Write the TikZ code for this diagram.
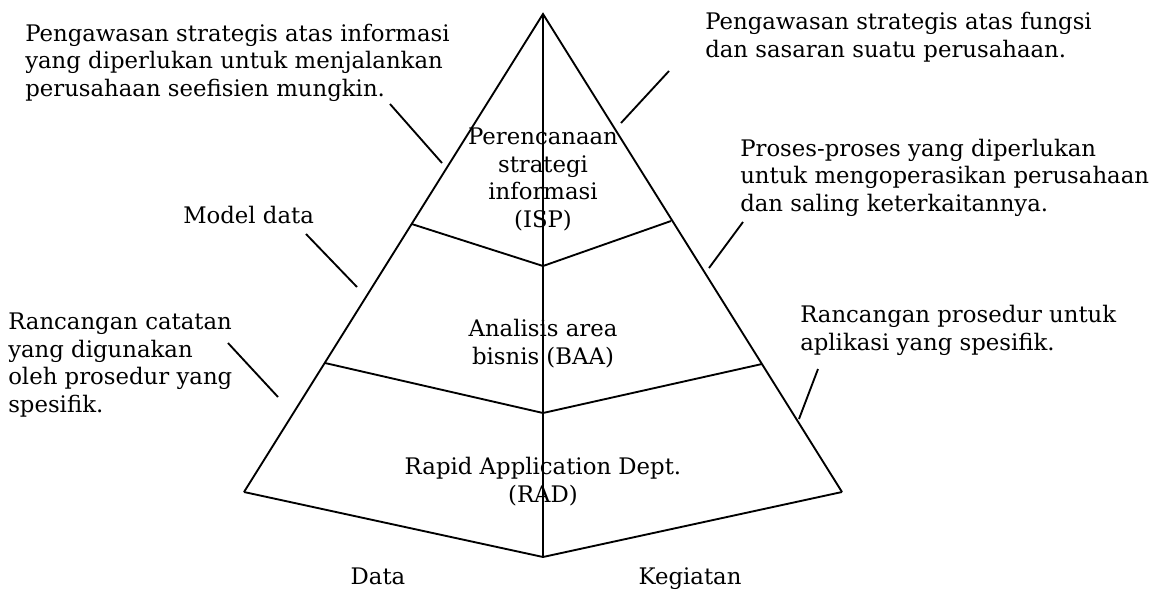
\documentclass[tikz,border=0pt]{standalone}
\usepackage{fontspec}
\setmainfont{DejaVu Serif}
\begin{document}
\begin{tikzpicture}[x=0.75pt,y=-0.75pt,
  txt/.style={font=\fontsize{17.1}{20.6}\selectfont, inner sep=0pt, align=left, anchor=base west},
  mid/.style={font=\fontsize{17.1}{20.6}\selectfont, inner sep=0pt, align=center, anchor=base},
  edge/.style={line width=1.4pt},
  pointer/.style={line width=1.4pt}]
\useasboundingbox (0,0) rectangle (1158,590);

% pyramid corners and tier breaks
\coordinate (apex) at (543,14);
\coordinate (bl)   at (244,492);
\coordinate (br)   at (842,492);
\coordinate (bot)  at (543,557);
\coordinate (t1l)  at (411.7,224);
\coordinate (t1c)  at (543,266);
\coordinate (t1r)  at (671,221);
\coordinate (t2l)  at (325,363);
\coordinate (t2c)  at (543,413);
\coordinate (t2r)  at (762,364);

\draw[edge] (bl) -- (apex) -- (br);
\draw[edge] (bl) -- (bot) -- (br);
\draw[edge] (apex) -- (bot);
\draw[edge] (t1l) -- (t1c) -- (t1r);
\draw[edge] (t2l) -- (t2c) -- (t2r);

% tier labels (anchored at the baseline of their last line)
\node[mid] (isp) at (543,227) {Perencanaan\\strategi\\informasi\\(ISP)};
\node[mid] (baa) at (543,364) {Analisis area\\bisnis (BAA)};
\node[mid] (rad) at (543,502) {Rapid Application Dept.\\(RAD)};
\node[mid] (data) at (378,584) {Data};
\node[mid] (keg) at (690,584) {Kegiatan};

% side descriptions
\node[txt] (d1) at (25,96) {Pengawasan strategis atas informasi\\yang diperlukan untuk menjalankan\\perusahaan seefisien mungkin.};
\node[txt] (d2) at (705,57) {Pengawasan strategis atas fungsi\\dan sasaran suatu perusahaan.};
\node[txt] (d3) at (183,223) {Model data};
\node[txt] (d4) at (740,211) {Proses-proses yang diperlukan\\untuk mengoperasikan perusahaan\\dan saling keterkaitannya.};
\node[txt] (d5) at (8,412) {Rancangan catatan\\yang digunakan\\oleh prosedur yang\\spesifik.};
\node[txt] (d6) at (800,350) {Rancangan prosedur untuk\\aplikasi yang spesifik.};

% pointer lines
\coordinate (p1a) at (390,104); \coordinate (p1b) at (442,163);
\coordinate (p2a) at (669,71);  \coordinate (p2b) at (621,123);
\coordinate (p3a) at (306,234); \coordinate (p3b) at (357,287);
\coordinate (p4a) at (743,222); \coordinate (p4b) at (709,268);
\coordinate (p5a) at (228,343); \coordinate (p5b) at (278,397);
\coordinate (p6a) at (818,369); \coordinate (p6b) at (799,419);
\draw[pointer] (p1a) -- (p1b);
\draw[pointer] (p2a) -- (p2b);
\draw[pointer] (p3a) -- (p3b);
\draw[pointer] (p4a) -- (p4b);
\draw[pointer] (p5a) -- (p5b);
\draw[pointer] (p6a) -- (p6b);
\end{tikzpicture}
\end{document}
